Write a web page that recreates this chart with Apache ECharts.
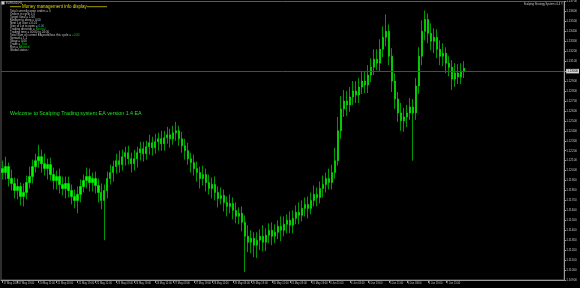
<!DOCTYPE html>
<html><head><meta charset="utf-8">
<script src="https://cdn.jsdelivr.net/npm/echarts@6/dist/echarts.min.js"></script>
<style>html,body{margin:0;padding:0;background:#000;}#c{width:580px;height:288px;}</style>
</head><body><div id="c"></div>
<script>
const symbolLabel = 'EURUSD,H1';
const brandLabel = 'Scalping Strategy System v1.4 \u00a9';
const welcomeText = 'Welcome to Scalping Trading system EA version 1.4 EA';
const infoTitle = 'Money management info display';
const infoLines = [
  ['Total currently open orders = ', '0', ''],
  ['Orders in cycle = ', '0', ''],
  ['Target Goal = ', '1.00', ''],
  ['Medium to deep = ', '0.00', ''],
  ['Next Lot Size = ', '0.01', ''],
  ['Size of Lot to open = ', '0.00', 'c'],
  ['Trading direction = ', 'Neutral', 'g'],
  ['Trading time = ', '00:00 to 24:00', ''],
  ['Total Sum of current EA profit/loss this cycle = ', '+0.00', 'g'],
  ['Spread = ', '1.1', ''],
  ['Swap = ', '0.00', ''],
  ['Trade = ', 'True', 'g'],
  ['Run = ', 'Allowed', 'g'],
  ['Global status :', '', '']
];

const openP = [
1.1202,1.1198,1.1204,1.1192,1.1187,1.1180,1.1184,1.1174,1.1178,1.1188,
1.1194,1.1204,1.1210,1.1214,1.1207,1.1202,1.1206,1.1196,1.1190,1.1194,
1.1186,1.1182,1.1187,1.1180,1.1174,1.1170,1.1176,1.1184,1.1190,1.1194,
1.1188,1.1192,1.1185,1.1178,1.1170,1.1180,1.1192,1.1198,1.1204,1.1210,
1.1206,1.1214,1.1218,1.1212,1.1207,1.1212,1.1218,1.1222,1.1217,1.1224,
1.1228,1.1223,1.1229,1.1232,1.1227,1.1233,1.1236,1.1232,1.1238,1.1240,
1.1232,1.1225,1.1220,1.1212,1.1208,1.1202,1.1198,1.1192,1.1196,1.1188,
1.1182,1.1186,1.1178,1.1172,1.1175,1.1168,1.1164,1.1167,1.1160,1.1154,
1.1157,1.1148,1.1134,1.1128,1.1132,1.1125,1.1130,1.1134,1.1128,1.1135,
1.1140,1.1134,1.1138,1.1144,1.1140,1.1146,1.1150,1.1145,1.1152,1.1158,
1.1155,1.1162,1.1166,1.1162,1.1170,1.1176,1.1173,1.1182,1.1186,1.1192,
1.1188,1.1198,1.1210,1.1240,1.1262,1.1270,1.1266,1.1274,1.1280,1.1276,
1.1284,1.1290,1.1286,1.1296,1.1304,1.1312,1.1308,1.1322,1.1334,1.1340,
1.1315,1.1290,1.1272,1.1258,1.1250,1.1254,1.1258,1.1264,1.1258,1.1285,
1.1315,1.1340,1.1352,1.1338,1.1330,1.1334,1.1322,1.1315,1.1318,1.1308,
1.1304,1.1292,1.1298,1.1294,1.1300];
const closeP = [
1.1198,1.1204,1.1192,1.1187,1.1180,1.1184,1.1174,1.1178,1.1188,1.1194,
1.1204,1.1210,1.1214,1.1207,1.1202,1.1206,1.1196,1.1190,1.1194,1.1186,
1.1182,1.1187,1.1180,1.1174,1.1170,1.1176,1.1184,1.1190,1.1194,1.1188,
1.1192,1.1185,1.1178,1.1170,1.1180,1.1192,1.1198,1.1204,1.1210,1.1206,
1.1214,1.1218,1.1212,1.1207,1.1212,1.1218,1.1222,1.1217,1.1224,1.1228,
1.1223,1.1229,1.1232,1.1227,1.1233,1.1236,1.1232,1.1238,1.1240,1.1232,
1.1225,1.1220,1.1212,1.1208,1.1202,1.1198,1.1192,1.1196,1.1188,1.1182,
1.1186,1.1178,1.1172,1.1175,1.1168,1.1164,1.1167,1.1160,1.1154,1.1157,
1.1148,1.1134,1.1128,1.1132,1.1125,1.1130,1.1134,1.1128,1.1135,1.1140,
1.1134,1.1138,1.1144,1.1140,1.1146,1.1150,1.1145,1.1152,1.1158,1.1155,
1.1162,1.1166,1.1162,1.1170,1.1176,1.1173,1.1182,1.1186,1.1192,1.1188,
1.1198,1.1210,1.1240,1.1262,1.1270,1.1266,1.1274,1.1280,1.1276,1.1284,
1.1290,1.1286,1.1296,1.1304,1.1312,1.1308,1.1322,1.1334,1.1340,1.1315,
1.1290,1.1272,1.1258,1.1250,1.1254,1.1258,1.1264,1.1258,1.1285,1.1315,
1.1340,1.1352,1.1338,1.1330,1.1334,1.1322,1.1315,1.1318,1.1308,1.1304,
1.1292,1.1298,1.1294,1.1300,1.1303];
const lowP = [
1.1191,1.1191,1.1184,1.1180,1.1172,1.1171,1.1165,1.1164,1.1171,1.1182,
1.1187,1.1198,1.1203,1.1198,1.1195,1.1191,1.1190,1.1181,1.1181,1.1177,
1.1175,1.1172,1.1173,1.1166,1.1162,1.1157,1.1168,1.1178,1.1182,1.1179,
1.1179,1.1177,1.1168,1.1161,1.1130,1.1172,1.1186,1.1189,1.1197,1.1198,
1.1200,1.1205,1.1206,1.1198,1.1200,1.1203,1.1210,1.1209,1.1211,1.1216,
1.1215,1.1217,1.1220,1.1220,1.1220,1.1227,1.1223,1.1226,1.1230,1.1225,
1.1218,1.1211,1.1206,1.1198,1.1195,1.1189,1.1182,1.1185,1.1179,1.1176,
1.1172,1.1170,1.1163,1.1166,1.1159,1.1154,1.1157,1.1151,1.1147,1.1146,
1.1139,1.1098,1.1118,1.1117,1.1113,1.1112,1.1120,1.1119,1.1119,1.1127,
1.1125,1.1127,1.1131,1.1129,1.1134,1.1137,1.1137,1.1137,1.1146,1.1146,
1.1149,1.1154,1.1152,1.1156,1.1164,1.1164,1.1167,1.1173,1.1178,1.1181,
1.1181,1.1192,1.1205,1.1232,1.1254,1.1255,1.1259,1.1266,1.1268,1.1268,
1.1277,1.1278,1.1278,1.1289,1.1296,1.1301,1.1300,1.1314,1.1325,1.1306,
1.1279,1.1262,1.1249,1.1240,1.1239,1.1244,1.1251,1.1210,1.1251,1.1277,
1.1306,1.1331,1.1328,1.1321,1.1318,1.1313,1.1306,1.1305,1.1298,1.1295,
1.1281,1.1284,1.1287,1.1287,1.1293];
const highP = [
1.1210,1.1214,1.1208,1.1201,1.1193,1.1192,1.1188,1.1187,1.1195,1.1204,
1.1211,1.1217,1.1226,1.1221,1.1217,1.1212,1.1213,1.1203,1.1200,1.1202,
1.1194,1.1194,1.1194,1.1186,1.1181,1.1184,1.1191,1.1196,1.1203,1.1202,
1.1198,1.1199,1.1192,1.1187,1.1186,1.1199,1.1206,1.1210,1.1217,1.1220,
1.1221,1.1224,1.1225,1.1218,1.1221,1.1224,1.1229,1.1229,1.1230,1.1236,
1.1234,1.1237,1.1238,1.1240,1.1240,1.1244,1.1242,1.1245,1.1249,1.1245,
1.1239,1.1232,1.1228,1.1218,1.1216,1.1209,1.1204,1.1205,1.1202,1.1196,
1.1193,1.1194,1.1184,1.1183,1.1181,1.1174,1.1176,1.1173,1.1168,1.1163,
1.1164,1.1155,1.1145,1.1140,1.1138,1.1138,1.1141,1.1145,1.1142,1.1147,
1.1148,1.1146,1.1150,1.1154,1.1154,1.1156,1.1159,1.1160,1.1165,1.1168,
1.1170,1.1173,1.1174,1.1178,1.1185,1.1183,1.1189,1.1195,1.1198,1.1202,
1.1206,1.1223,1.1254,1.1275,1.1281,1.1280,1.1284,1.1290,1.1290,1.1293,
1.1299,1.1300,1.1306,1.1313,1.1322,1.1322,1.1332,1.1345,1.1357,1.1347,
1.1323,1.1298,1.1279,1.1268,1.1263,1.1266,1.1273,1.1272,1.1293,1.1324,
1.1351,1.1361,1.1358,1.1348,1.1343,1.1342,1.1331,1.1328,1.1324,1.1315,
1.1311,1.1308,1.1307,1.1308,1.1310];

const tickLabels = ['17 May 2019','17 May 19:00','20 May 11:00','21 May 03:00','21 May 19:00','22 May 11:00',
  '23 May 03:00','23 May 19:00','24 May 11:00','27 May 03:00','27 May 19:00','28 May 11:00','29 May 03:00',
  '29 May 19:00','30 May 11:00','31 May 03:00','31 May 19:00','3 Jun 11:00','4 Jun 03:00','4 Jun 19:00',
  '5 Jun 11:00','6 Jun 03:00','6 Jun 19:00','7 Jun 11:00'];
const tickIdx = [0,5,12,18,25,31,38,44,51,57,64,70,77,83,90,96,103,109,116,122,129,135,142,148];
const shiftBars = 33;
const priceMin = 1.1090, priceMax = 1.1370, priceStep = 0.0010;

const FONT = '"Liberation Sans", Arial, sans-serif';
const total = openP.length + shiftBars;
const categories = [];
for (let i = 0; i < total; i++) categories.push(String(i));
const candles = openP.map((o, i) => [o, closeP[i], lowP[i], highP[i]]);
for (let i = 0; i < shiftBars; i++) candles.push('-');
const tickMap = {};
tickIdx.forEach((ix, k) => { tickMap[ix] = tickLabels[k]; });
const lastPrice = closeP[closeP.length - 1];

const infoText = infoLines.map(l => {
  let s = l[0];
  if (l[1]) s += l[2] ? '{' + l[2] + '|' + l[1] + '}' : l[1];
  return s;
}).join('\n');

const chart = echarts.init(document.getElementById('c'), null, {renderer: 'canvas'});
chart.setOption({
  animation: false,
  backgroundColor: '#000000',
  grid: {left: 1, right: 15, top: 0, bottom: 8, show: true, borderColor: '#5c5c5c', borderWidth: 1},
  xAxis: {
    type: 'category', data: categories, boundaryGap: true,
    axisLine: {show: true, lineStyle: {color: '#9a9a9a', width: 1}},
    axisTick: {show: true, alignWithLabel: true, length: 3, lineStyle: {color: '#9a9a9a'},
      interval: (i) => tickMap[i] !== undefined},
    axisLabel: {show: true, interval: (i) => tickMap[i] !== undefined,
      formatter: (v, i) => tickMap[i] || '', color: '#c0c0c0', fontSize: 2.6, fontFamily: FONT,
      align: 'left', margin: 2, padding: [0, 0, 0, 1]},
    splitLine: {show: false}
  },
  yAxis: {
    type: 'value', position: 'right', min: priceMin, max: priceMax, interval: priceStep, scale: true,
    axisLine: {show: true, lineStyle: {color: '#9a9a9a', width: 1}},
    axisTick: {show: true, length: 2, lineStyle: {color: '#9a9a9a'}},
    axisLabel: {show: true, color: '#c0c0c0', fontSize: 3, fontFamily: FONT, margin: 2,
      formatter: (v) => v.toFixed(5)},
    splitLine: {show: false}
  },
  series: [{
    type: 'candlestick', data: candles, barWidth: 1.8,
    itemStyle: {color: '#00ff00', color0: '#00ff00', borderColor: '#00ff00', borderColor0: '#00ff00', borderWidth: 0.6},
    markLine: {
      silent: true, symbol: ['none', 'none'], animation: false,
      data: [{yAxis: lastPrice}],
      lineStyle: {color: '#474d57', type: 'solid', width: 1},
      label: {show: true, position: 'end', distance: 2, formatter: (p) => Number(p.value).toFixed(5),
        color: '#000', backgroundColor: '#d8d8d8', fontSize: 3, fontFamily: FONT, padding: [1, 1, 0.5, 1]}
    }
  }],
  graphic: [
    {type: 'rect', shape: {x: 1.5, y: 1.5, width: 3, height: 3}, style: {fill: '#cfcfcf'}},
    {type: 'text', x: 6, y: 3, style: {text: symbolLabel, fill: '#c8c8c8', fontSize: 2.8, fontFamily: FONT,
      align: 'left', verticalAlign: 'middle', textAlign: 'left', textVerticalAlign: 'middle'}},
    {type: 'line', shape: {x1: 10, y1: 6.7, x2: 21, y2: 6.7}, style: {stroke: '#a89c00', lineWidth: 1}},
    {type: 'line', shape: {x1: 87, y1: 6.7, x2: 107, y2: 6.7}, style: {stroke: '#a89c00', lineWidth: 1}},
    {type: 'text', x: 22, y: 6.7, style: {text: infoTitle, fill: '#e4d400', fontSize: 4.5, fontFamily: FONT,
      align: 'left', verticalAlign: 'middle', textAlign: 'left', textVerticalAlign: 'middle'}},
    {type: 'text', x: 10, y: 9.2, style: {text: infoText, fill: '#c4c4c4', fontSize: 3, lineHeight: 3.03, fontFamily: FONT,
      align: 'left', verticalAlign: 'top', textAlign: 'left', textVerticalAlign: 'top',
      rich: {
        c: {fill: '#38b8f0', fontSize: 3, lineHeight: 3.03, fontFamily: FONT},
        g: {fill: '#00d000', fontSize: 3, lineHeight: 3.03, fontFamily: FONT}
      }}},
    {type: 'text', x: 10, y: 114, style: {text: welcomeText, fill: '#1ee61e', fontSize: 5.3, fontFamily: FONT,
      align: 'left', verticalAlign: 'middle', textAlign: 'left', textVerticalAlign: 'middle'}},
    {type: 'text', x: 563, y: 4, style: {text: brandLabel, fill: '#c8c8c8', fontSize: 2.7, fontFamily: FONT,
      align: 'right', verticalAlign: 'middle', textAlign: 'right', textVerticalAlign: 'middle'}}
  ]
});
</script></body></html>
